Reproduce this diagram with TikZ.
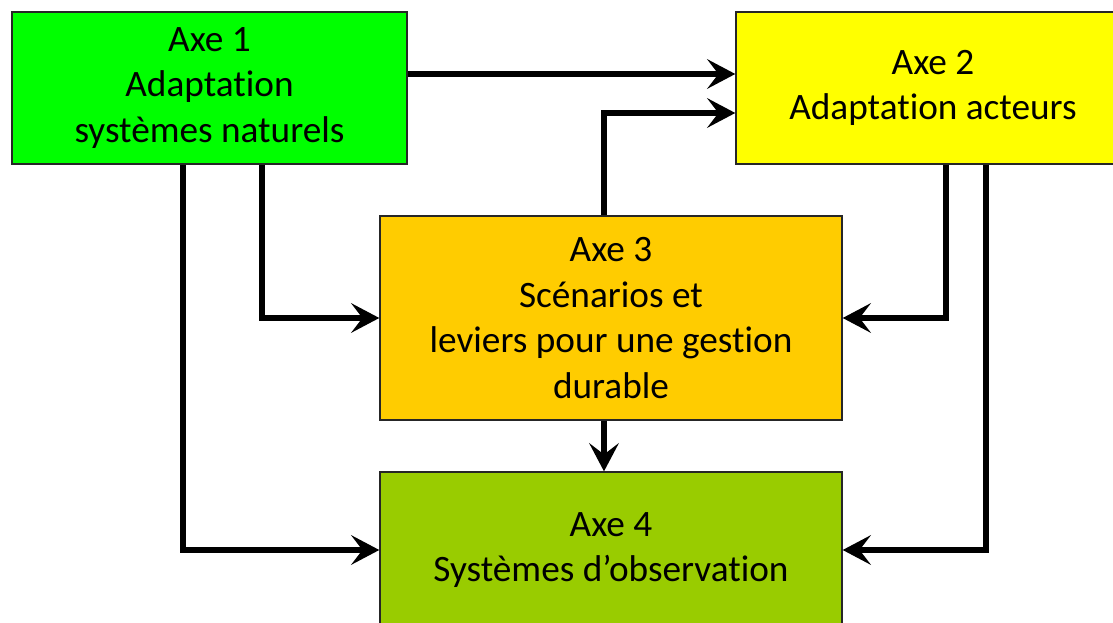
\documentclass[tikz,border=0pt]{standalone}
\usepackage{fontspec}
\setmainfont{Carlito}[Ligatures=NoCommon]
\usetikzlibrary{arrows.meta,positioning}
\definecolor{axeverte}{HTML}{00FF00}
\definecolor{axejaune}{HTML}{FFFF00}
\definecolor{axeorange}{HTML}{FFCC00}
\definecolor{axeolive}{HTML}{99CC00}

\begin{document}
\begin{tikzpicture}[x=0.025cm,y=-0.025cm,
every node/.style={draw=black!85,line width=0.9pt,align=center,inner sep=0pt,
  font=\fontsize{26.5}{32.5}\selectfont},
conn/.style={line width=3.6pt,-{Stealth[length=20pt,width=21pt,inset=8pt]}}]
\useasboundingbox (0,0) rectangle (1113,623);
% les quatre axes
\node[fill=axeverte,minimum width=9.875cm,minimum height=3.8cm] (ax1) at (209.5,88) {Axe 1\\Adaptation\\systèmes naturels};
\node[fill=axejaune,minimum width=9.85cm,minimum height=3.8cm] (ax2) at (933,88) {Axe 2\\Adaptation acteurs};
\node[fill=axeorange,minimum width=11.55cm,minimum height=5.1cm] (ax3) at (611,318) {Axe 3\\Scénarios et\\leviers pour une gestion\\durable};
\node[fill=axeolive,minimum width=11.55cm,minimum height=3.9cm] (ax4) at (611,550) {Axe 4\\Systèmes d’observation};
% liens
\draw[conn] (ax1.east |- 0,74) -- (ax2.west |- 0,74);
\draw[conn] (ax3.north -| 604,0) |- (ax2.west |- 0,113);
\draw[conn] (ax1.south -| 262,0) |- (ax3.west);
\draw[conn] (ax1.south -| 183,0) |- (ax4.west);
\draw[conn] (ax2.south -| 946,0) |- (ax3.east);
\draw[conn] (ax2.south -| 986,0) |- (ax4.east);
\draw[conn] (ax3.south -| 604,0) -- (ax4.north -| 604,0);
\end{tikzpicture}
\end{document}
